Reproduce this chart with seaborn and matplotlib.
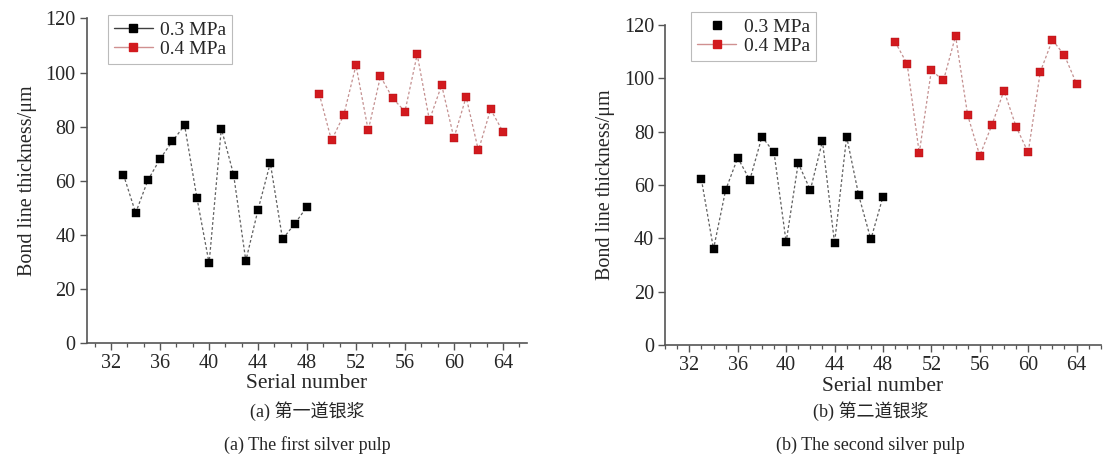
import numpy as np
import pandas as pd
import matplotlib
matplotlib.use("Agg")
import matplotlib.pyplot as plt
from matplotlib.ticker import MultipleLocator
from matplotlib.lines import Line2D
import seaborn as sns

# ---- data ----
serial_03 = list(range(33, 49))
serial_04 = list(range(49, 65))

a_03 = [62.3, 48.1, 60.2, 68.1, 74.6, 80.5, 53.8, 29.5, 79.3, 62.3, 30.4, 49.3, 66.6, 38.4, 44.1, 50.4]
a_04 = [92.1, 74.9, 84.3, 102.7, 78.6, 98.6, 90.5, 85.6, 106.7, 82.4, 95.4, 75.8, 91.0, 71.2, 86.4, 78.2]

b_03 = [62.1, 36.0, 58.1, 70.2, 61.9, 78.1, 72.2, 38.6, 68.2, 58.1, 76.5, 38.2, 78.1, 56.1, 39.6, 55.6]
b_04 = [113.7, 105.4, 72.0, 103.0, 99.2, 115.9, 86.2, 71.0, 82.5, 95.4, 81.9, 72.2, 102.4, 114.4, 108.6, 97.9]

series_labels = ["0.3 MPa", "0.4 MPa"]
x_ticks = [32, 36, 40, 44, 48, 52, 56, 60, 64]
y_ticks = [0, 20, 40, 60, 80, 100, 120]
x_label = "Serial number"
y_label = "Bond line thickness/\u03bcm"
captions_cn = ["(a) 第一道银浆", "(b) 第二道银浆"]
captions_en = ["(a) The first silver pulp", "(b) The second silver pulp"]

sns.set_style("ticks")
plt.rcParams["font.family"] = ["Liberation Serif", "Noto Sans CJK SC"]
plt.rcParams["mathtext.fontset"] = "stix"

BLACK = "#000000"
RED = "#d21a1e"
SPINE = "#555555"

fig = plt.figure(figsize=(11.03, 4.62), dpi=100)
ax1 = fig.add_axes([0.0786, 0.2576, 0.3995, 0.7024])
ax2 = fig.add_axes([0.6030, 0.2532, 0.3950, 0.6927])

panels = [
    (ax1, a_03, a_04, 4 / 3, (0.048, 1.01)),
    (ax2, b_03, b_04, 1, (0.06, 1.04)),
]

for i, (ax, s3, s4, minor, anchor) in enumerate(panels):
    df3 = pd.DataFrame({"x": serial_03, "y": s3})
    df4 = pd.DataFrame({"x": serial_04, "y": s4})
    sns.lineplot(data=df3, x="x", y="y", ax=ax, color="#606060", lw=0.9,
                 linestyle=(0, (2.2, 1.8)), zorder=2)
    sns.lineplot(data=df4, x="x", y="y", ax=ax, color="#c49090", lw=0.9,
                 linestyle=(0, (2.2, 1.8)), zorder=2)
    sns.scatterplot(data=df3, x="x", y="y", ax=ax, marker="s", s=36,
                    color=BLACK, edgecolor=BLACK, linewidth=0.3, zorder=3)
    sns.scatterplot(data=df4, x="x", y="y", ax=ax, marker="s", s=36,
                    color=RED, edgecolor="#b01015", linewidth=0.3, zorder=3)

    ax.set_xlim(30, 66)
    ax.set_ylim(0, 120)
    ax.set_xticks(x_ticks)
    ax.set_yticks(y_ticks)
    ax.xaxis.set_minor_locator(MultipleLocator(minor))
    ax.tick_params(axis="both", which="major", labelsize=14.5, length=5,
                   width=1, color=SPINE, direction="out", pad=3)
    ax.tick_params(axis="x", which="minor", length=3, width=0.9, color=SPINE,
                   direction="out")
    for side in ["top", "right"]:
        ax.spines[side].set_visible(False)
    for side in ["left", "bottom"]:
        ax.spines[side].set_color(SPINE)
        ax.spines[side].set_linewidth(1.2)

    ax.set_xlabel(x_label, fontsize=15.5, labelpad=1)
    ax.set_ylabel(y_label, fontsize=14.5, labelpad=6)

    if i == 0:
        h1 = Line2D([], [], color="#404040", lw=1, linestyle="-", marker="s",
                    markersize=5.5, markerfacecolor=BLACK, markeredgecolor=BLACK)
    else:
        h1 = Line2D([], [], color="none", lw=0, marker="s", markersize=5.5,
                    markerfacecolor=BLACK, markeredgecolor=BLACK)
    h2 = Line2D([], [], color="#d09090", lw=1, linestyle="-", marker="s",
                markersize=5.5, markerfacecolor=RED, markeredgecolor=RED)
    leg = ax.legend([h1, h2], series_labels, loc="upper left",
                    bbox_to_anchor=anchor,
                    fontsize=14, frameon=True, fancybox=False,
                    handlelength=2.0, handletextpad=0.4, borderpad=0.3,
                    labelspacing=0.1, borderaxespad=0)
    leg.get_frame().set_edgecolor("#aaaaaa")
    leg.get_frame().set_linewidth(0.8)

# captions
fig.text(0.2786, 1 - 411 / 462, captions_cn[0], ha="center", va="center", fontsize=13)
fig.text(0.2786, 1 - 445 / 462, captions_en[0], ha="center", va="center", fontsize=13)
fig.text(0.7890, 1 - 411 / 462, captions_cn[1], ha="center", va="center", fontsize=13)
fig.text(0.7890, 1 - 445 / 462, captions_en[1], ha="center", va="center", fontsize=13)

fig.savefig("out.png", dpi=100)
